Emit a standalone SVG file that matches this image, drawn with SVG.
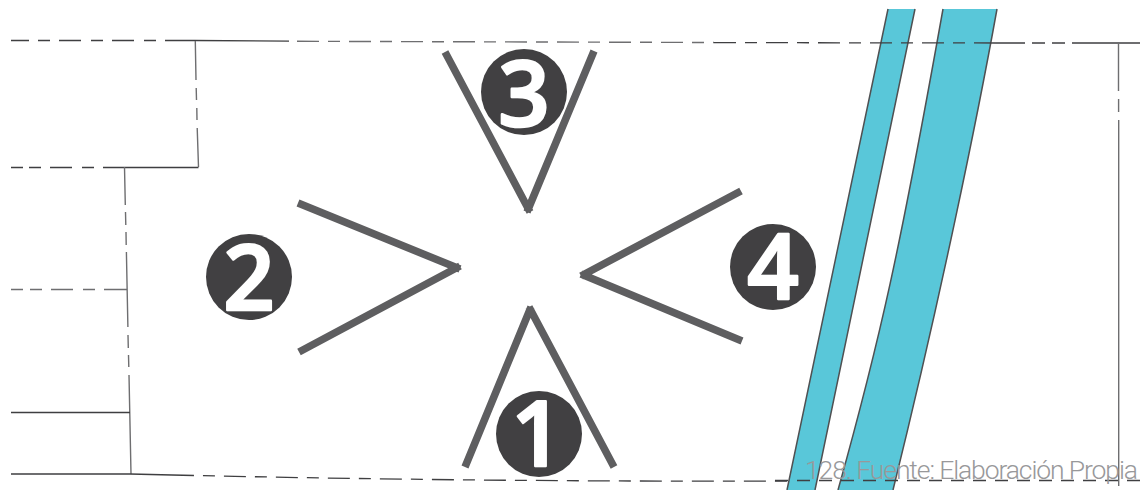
<svg xmlns="http://www.w3.org/2000/svg" width="1140" height="490" viewBox="0 0 1140 490">
<style>
.l{fill:none;stroke:#3f3f41;stroke-width:1.3}
.g{fill:none;stroke:#6e6e70;stroke-width:1.4}
.d1{stroke-dasharray:22 9 12 9}
.d2{stroke-dasharray:13 9}
.fill{fill:#59c7d9}
.edge{fill:none;stroke:#4f5052;stroke-width:1.5}
.v{fill:none;stroke:#5e5e60;stroke-width:7.5}
.c{fill:#414042}
.n{fill:#fff;stroke:#fff;stroke-width:2.5;stroke-linejoin:round;font-family:"Open Sans","Liberation Sans",sans-serif;font-weight:600;font-size:90px;text-anchor:middle}
.cap{fill:#98989a;font-family:Roboto,"Liberation Sans",sans-serif;font-weight:300;font-style:normal;font-size:26.5px}
</style>
<rect width="1140" height="490" fill="#fff"/>
<g id="bands">
<path class="fill" d="M888 9H915L815 490H787Z"/>
<path class="edge" d="M888 9L787 490M915 9L815 490"/>
<path class="fill" d="M943 9H997C977 120 940 300 893 490H838C880 340 900 250 943 9Z"/>
<path class="edge" d="M997 9C977 120 940 300 893 490M838 490C880 340 900 250 943 9"/>
</g>
<g id="connectors">
<path class="l" d="M11 40.5H29M38 40.5H50M59 40.5H81M91 40.5H103M112 40.5H134M144 40.5H156"/>
<path class="l" d="M165 40.5H195L289 41.2"/>
<path class="g d1" d="M297 41.3L714 42.5"/>
<path class="l d1" d="M714 42.6L1000 43"/>
<path class="l" d="M996 43H1025M1032 43H1045M1052 43H1065M1072 43H1140"/>
<path class="g" d="M195.3 41L196 80M196.2 88L196.5 100M196.8 108L197 120M197.2 128L198.5 167"/>
<path class="l" d="M11 167.5H23M29 167.5H41M50 167.5H72M82 167.5H94M103 167.5H198.5"/>
<path class="g" d="M124.5 167L125.3 205M125.5 212L125.8 225M126 232L126.2 245M126.4 252L127.9 327M128 335L128.3 348M128.5 355L128.8 367M129 375L131 474"/>
<path class="g" d="M11 289.5H23M30 289.5H42M51 289.5H73M83 289.5H95M104 289.5H127"/>
<path class="l" d="M11 412.5H130M11 474H130L172 475"/>
<path class="l d1" d="M172 475Q480 482 790 481"/>
<path class="l d2" d="M775 480.5H1140"/>
<path class="g" d="M1118.5 43V91M1118.6 99V112M1118.7 120V486"/>
</g>
<g id="node-1"><path class="v" d="M465 467L531 307M529 307L614 467"/><circle class="c" cx="539" cy="434" r="43"/><text class="n" x="537" y="466">1</text></g>
<g id="node-2"><path class="v" d="M298 203L460 269M460 266L299 352"/><circle class="c" cx="249" cy="277" r="43"/><text class="n" x="249" y="310">2</text></g>
<g id="node-3"><path class="v" d="M445 52L530 212M527 212L594 51"/><circle class="c" cx="524" cy="92" r="43"/><text class="n" x="524" y="126">3</text></g>
<g id="node-4"><path class="v" d="M741 191L581 276M581 274L742 341"/><circle class="c" cx="773" cy="267" r="43"/><text class="n" x="773" y="299">4</text></g>
<text class="cap" x="805" y="479" textLength="333">128. Fuente: Elaboración Propia</text>
</svg>
